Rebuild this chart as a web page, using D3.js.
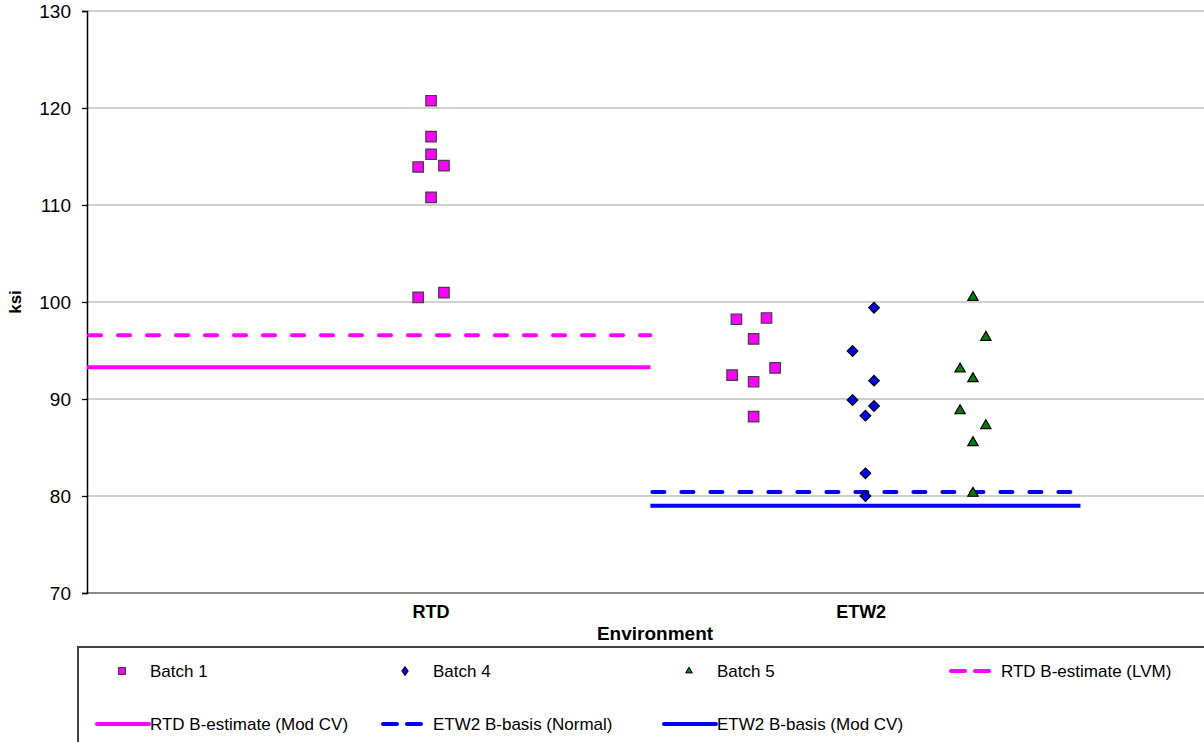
<!DOCTYPE html>
<html>
<head>
<meta charset="utf-8">
<script src="https://cdn.jsdelivr.net/npm/d3@7"></script>
<style>
  html, body { margin: 0; padding: 0; background: #fff; }
  svg { display: block; font-family: "Liberation Sans", Arial, sans-serif; }
</style>
</head>
<body>
<svg id="chart" width="1204" height="742"></svg>
<script>
// ---- data ----
const categories = ["RTD", "ETW2"];
const categoryPos = [1, 2];
const yTicks = [70, 80, 90, 100, 110, 120, 130];

// Batch 1 (RTD and ETW2 specimens), x = environment position with jitter
const batch1X = [1.00, 1.00, 1.00, 0.97, 1.03, 1.00, 1.03, 0.97,
                 1.71, 1.78, 1.75, 1.80, 1.70, 1.75, 1.75];
const batch1Y = [120.75, 117.04, 115.23, 113.92, 114.05, 110.79, 100.96, 100.48,
                 98.22, 98.35, 96.19, 93.20, 92.47, 91.78, 88.18];

// Batch 4 (ETW2)
const batch4X = [2.03, 1.98, 2.03, 1.98, 2.03, 2.01, 2.01, 2.01];
const batch4Y = [99.41, 94.95, 91.89, 89.90, 89.28, 88.28, 82.34, 80.00];

// Batch 5 (ETW2)
const batch5X = [2.26, 2.29, 2.23, 2.26, 2.23, 2.29, 2.26, 2.26];
const batch5Y = [100.48, 96.36, 93.09, 92.10, 88.80, 87.25, 85.50, 80.28];

// Basis / estimate lines: [x start, x end] and level
const rtdSpan = [0.2, 1.51];
const etw2Span = [1.51, 2.51];
const rtdLVM = 96.57;
const rtdModCV = 93.27;
const etw2Normal = 80.41;
const etw2ModCV = 79.0;

// ---- layout ----
const svg = d3.select("#chart");
const plot = { left: 87, right: 1231, top: 11, bottom: 593 };
const font = '"Liberation Sans", Arial, sans-serif';

const x = d3.scaleLinear().domain([0.2, 2.86]).range([plot.left, plot.right]);
const y = d3.scaleLinear().domain([70, 130]).range([plot.bottom, plot.top]);

// gridlines
svg.append("g")
  .selectAll("line")
  .data(yTicks.filter(t => t > 70))
  .join("line")
  .attr("x1", plot.left).attr("x2", plot.right)
  .attr("y1", d => y(d)).attr("y2", d => y(d))
  .attr("stroke", "#c0c0c0").attr("stroke-width", 1.3);

// bottom axis line
svg.append("line")
  .attr("x1", plot.left).attr("x2", plot.right)
  .attr("y1", y(70)).attr("y2", y(70))
  .attr("stroke", "#8c8c8c").attr("stroke-width", 2);

// left axis
const yAxis = d3.axisLeft(y).tickValues(yTicks).tickSize(5).tickPadding(11).tickFormat(d3.format("d"));
const yg = svg.append("g").attr("transform", `translate(${plot.left},0)`).call(yAxis);
yg.select(".domain").attr("stroke", "#000").attr("stroke-width", 1.5);
yg.selectAll(".tick line").attr("stroke", "#000").attr("stroke-width", 1.3);
yg.selectAll(".tick text").attr("font-family", font).attr("font-size", 19).attr("fill", "#000");

// y title
svg.append("text")
  .attr("transform", `translate(21,${(plot.top + plot.bottom) / 2}) rotate(-90)`)
  .attr("text-anchor", "middle")
  .attr("font-family", font).attr("font-weight", "bold").attr("font-size", 17)
  .text("ksi");

// category labels
svg.append("g").selectAll("text")
  .data(categories)
  .join("text")
  .attr("x", (d, i) => x(categoryPos[i]))
  .attr("y", 618)
  .attr("text-anchor", "middle")
  .attr("font-family", font).attr("font-weight", "bold").attr("font-size", 18)
  .text(d => d);

// x title
svg.append("text")
  .attr("x", 655).attr("y", 640)
  .attr("text-anchor", "middle")
  .attr("font-family", font).attr("font-weight", "bold").attr("font-size", 19)
  .text("Environment");

// ---- basis lines ----
const lineSeries = [
  { span: rtdSpan, v: rtdModCV, color: "#ff00ff", dash: null },
  { span: rtdSpan, v: rtdLVM, color: "#ff00ff", dash: "12 17" },
  { span: etw2Span, v: etw2ModCV, color: "#0000ff", dash: null },
  { span: etw2Span, v: etw2Normal, color: "#0000ff", dash: "12 17" }
];
svg.append("g").selectAll("line")
  .data(lineSeries)
  .join("line")
  .attr("x1", d => x(d.span[0]) + (d.dash ? 2 : 0))
  .attr("x2", d => x(d.span[1]))
  .attr("y1", d => y(d.v)).attr("y2", d => y(d.v))
  .attr("stroke", d => d.color)
  .attr("stroke-width", 4)
  .attr("stroke-linecap", d => d.dash ? "round" : "butt")
  .attr("stroke-dasharray", d => d.dash);

// ---- markers ----
const sq = d3.symbol().type(d3.symbolSquare).size(110);
const dia = d3.symbol().type(d3.symbolDiamond2).size(72);
const tri = d3.symbol().type(d3.symbolTriangle2).size(76);

function points(xs, ys) { return xs.map((v, i) => [v, ys[i]]); }

svg.append("g").selectAll("path")
  .data(points(batch1X, batch1Y))
  .join("path")
  .attr("transform", d => `translate(${x(d[0])},${y(d[1])})`)
  .attr("d", sq())
  .attr("fill", "#ff00ff").attr("stroke", "#404040").attr("stroke-width", 1.2);

svg.append("g").selectAll("path")
  .data(points(batch4X, batch4Y))
  .join("path")
  .attr("transform", d => `translate(${x(d[0])},${y(d[1])})`)
  .attr("d", dia())
  .attr("fill", "#0000ff").attr("stroke", "#000").attr("stroke-width", 1.2);

svg.append("g").selectAll("path")
  .data(points(batch5X, batch5Y))
  .join("path")
  .attr("transform", d => `translate(${x(d[0])},${y(d[1])})`)
  .attr("d", tri())
  .attr("fill", "#008000").attr("stroke", "#000").attr("stroke-width", 1.2);

// ---- legend ----
const legend = svg.append("g");
legend.append("rect")
  .attr("x", 78).attr("y", 647).attr("width", 1200).attr("height", 200)
  .attr("fill", "#fff").attr("stroke", "#404040").attr("stroke-width", 2);

const legendItems = [
  { label: "Batch 1", kind: "square", col: 0, row: 0 },
  { label: "Batch 4", kind: "diamond", col: 1, row: 0 },
  { label: "Batch 5", kind: "triangle", col: 2, row: 0 },
  { label: "RTD  B-estimate (LVM)", kind: "line", color: "#ff00ff", dash: true, col: 3, row: 0 },
  { label: "RTD B-estimate (Mod CV)", kind: "line", color: "#ff00ff", dash: false, col: 0, row: 1 },
  { label: "ETW2 B-basis (Normal)", kind: "line", color: "#0000ff", dash: true, col: 1, row: 1 },
  { label: "ETW2 B-basis (Mod CV)", kind: "line", color: "#0000ff", dash: false, col: 2, row: 1 }
];
const colText = [150, 433, 717, 1001];
const rowY = [671, 724];

legendItems.forEach(it => {
  const tx = colText[it.col], cy = rowY[it.row];
  const g = legend.append("g");
  if (it.kind === "square") {
    g.append("path").attr("transform", `translate(${tx - 28},${cy})`)
      .attr("d", d3.symbol().type(d3.symbolSquare).size(46)())
      .attr("fill", "#ff00ff").attr("stroke", "#404040").attr("stroke-width", 1.1);
  } else if (it.kind === "diamond") {
    g.append("path").attr("transform", `translate(${tx - 28},${cy}) scale(0.8,1.1)`)
      .attr("d", d3.symbol().type(d3.symbolDiamond2).size(40)())
      .attr("fill", "#0000ff").attr("stroke", "#000").attr("stroke-width", 1);
  } else if (it.kind === "triangle") {
    g.append("path").attr("transform", `translate(${tx - 28},${cy})`)
      .attr("d", d3.symbol().type(d3.symbolTriangle2).size(32)())
      .attr("fill", "#008000").attr("stroke", "#000").attr("stroke-width", 1);
  } else if (it.dash) {
    [tx - 50, tx - 26].forEach(sx => {
      g.append("line").attr("x1", sx).attr("x2", sx + 14)
        .attr("y1", cy).attr("y2", cy)
        .attr("stroke", it.color).attr("stroke-width", 4).attr("stroke-linecap", "round");
    });
  } else {
    g.append("line").attr("x1", tx - 53).attr("x2", tx - 1)
      .attr("y1", cy).attr("y2", cy)
      .attr("stroke", it.color).attr("stroke-width", 4).attr("stroke-linecap", "round");
  }
  g.append("text").attr("x", tx).attr("y", cy + 6)
    .attr("font-family", font).attr("font-size", 17).attr("fill", "#000")
    .text(it.label);
});
</script>
</body>
</html>
